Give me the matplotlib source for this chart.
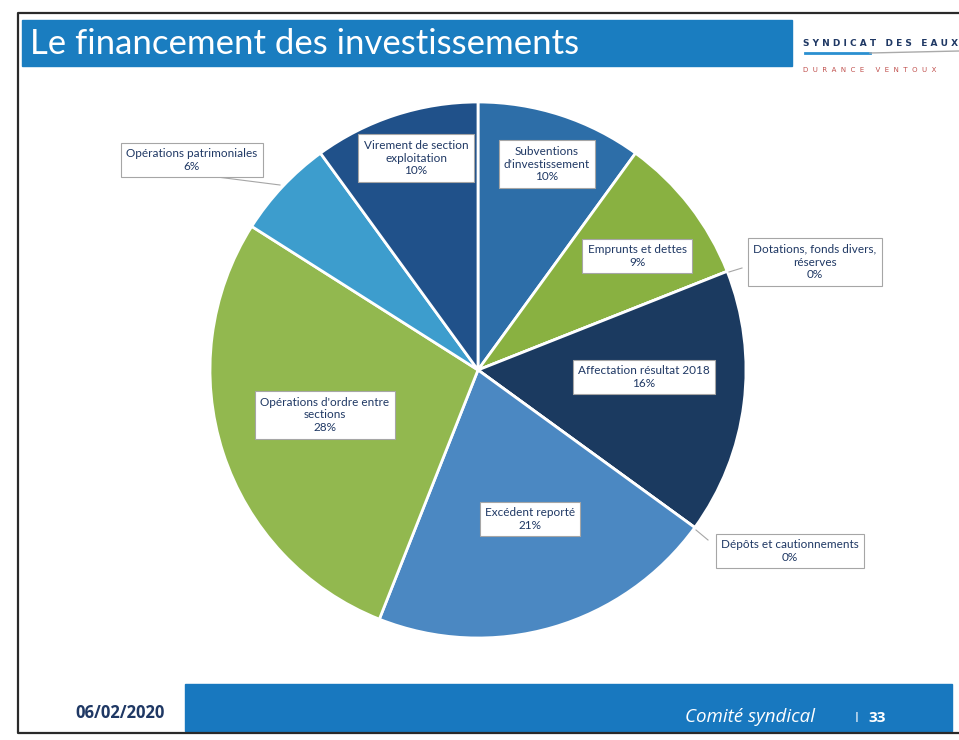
import matplotlib
matplotlib.use("Agg")
import matplotlib.pyplot as plt
from matplotlib.patches import Rectangle

# data
categories = ["Subventions\nd'investissement", "Emprunts et dettes",
              "Dotations, fonds divers,\nréserves", "Affectation résultat 2018",
              "Dépôts et cautionnements", "Excédent reporté",
              "Opérations d'ordre entre\nsections", "Opérations patrimoniales",
              "Virement de section\nexploitation"]
shares = [10, 9, 0, 16, 0, 21, 28, 6, 10]
colors = ["#2d6ea8", "#89b141", "#5a8fc8", "#1b3a60", "#4a89c4",
          "#4b88c2", "#92b84f", "#3d9dcd", "#20518a"]

# label box centres in pixels, and leader lines (pixel endpoints) for outside labels
label_pos = [(547, 164), (637, 256), (815, 262), (644, 377), (790, 551),
             (530, 519), (325, 415), (192, 160), (416, 158)]
leaders = {2: ((742, 268), (729, 272)), 4: ((708, 540), (696, 530)),
           7: ((217, 177), (280, 185))}

W, H = 959, 740
fig = plt.figure(figsize=(W / 100, H / 100), dpi=100)
fig.patch.set_facecolor("white")

# pie axes: centre (478, 370), radius 268 px
cx, cy, r = 478, 370, 268
pax = fig.add_axes([(cx - r) / W, (H - cy - r) / H, 2 * r / W, 2 * r / H])
pax.pie(shares, colors=colors, startangle=90, counterclock=False,
        wedgeprops=dict(edgecolor="white", linewidth=2))
pax.set_xlim(-1, 1)
pax.set_ylim(-1, 1)
pax.set_aspect("equal")
pax.axis("off")
pax.set_zorder(1)

# overlay in pixel coords
ax = fig.add_axes([0, 0, 1, 1])
ax.set_xlim(0, W)
ax.set_ylim(H, 0)
ax.axis("off")
ax.set_zorder(2)
ax.patch.set_alpha(0)

# scan border
ax.plot([970, 18, 18, 970], [13, 13, 733, 733], color="#2a2a2a", lw=1.6)

# title bar
ax.add_patch(Rectangle((22, 20), 770, 46, color="#1a7dc0"))
ax.text(30, 44, "Le financement des investissements", color="white",
        fontsize=25, family="Lato", va="center", ha="left")

# logo
ax.text(803, 44, "S Y N D I C A T   D E S   E A U X", color="#1f3864", fontsize=6.5,
        fontweight="bold", family="DejaVu Sans", va="center", ha="left")
ax.plot([805, 870], [53, 53], color="#2a8fd0", lw=2)
ax.plot([870, 959], [53, 51], color="#aaaaaa", lw=1)
ax.text(803, 70, "D  U  R  A  N  C  E     V  E  N  T  O  U  X", color="#c0504d",
        fontsize=5, family="DejaVu Sans", va="center", ha="left")

# pie labels
for i, (name, val) in enumerate(zip(categories, shares)):
    x, y = label_pos[i]
    ax.text(x, y, f"{name}\n{val}%", ha="center", va="center", fontsize=8.5,
            family="Lato", color="#1f3864", linespacing=1.2,
            bbox=dict(boxstyle="square,pad=0.45", fc="white", ec="#a6a6a6", lw=0.8))
    if i in leaders:
        (x0, y0), (x1, y1) = leaders[i]
        ax.plot([x0, x1], [y0, y1], color="#a6a6a6", lw=0.8)

# footer
ax.add_patch(Rectangle((185, 684), 767, 47, color="#1878bf"))
ax.text(120, 713, "06/02/2020", color="#1f3864", fontsize=12, fontweight="bold",
        family="Open Sans", ha="center", va="center")
ax.text(815, 717, "Comité syndical", color="white", fontsize=13.5, style="italic",
        family="Open Sans", ha="right", va="center")
ax.text(857, 718, "I", color="white", fontsize=10, family="Open Sans",
        ha="center", va="center")
ax.text(877, 718, "33", color="white", fontsize=11, fontweight="bold",
        family="Open Sans", ha="center", va="center")

fig.savefig("out.png", dpi=100)
